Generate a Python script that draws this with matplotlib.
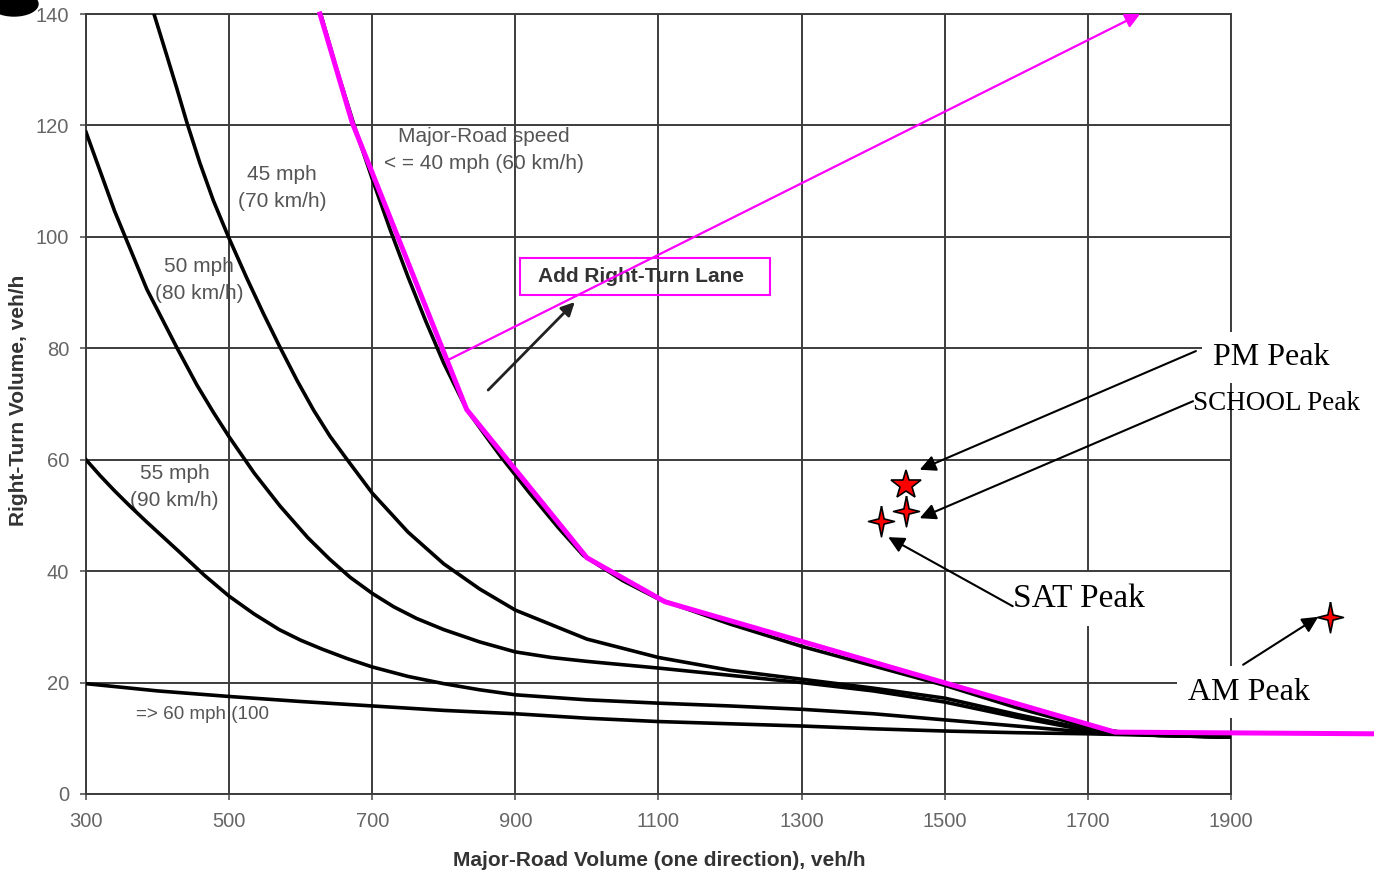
import matplotlib
matplotlib.use("Agg")
import matplotlib.pyplot as plt
from matplotlib.patches import Ellipse, Rectangle
import numpy as np

# curves (major-road volume, right-turn volume)
x_40 = [628, 650, 674, 700, 725, 750, 775, 800, 832, 860, 880, 920, 960, 995,
        1050, 1100, 1200, 1300, 1400, 1500, 1600, 1700, 1750, 1800, 1900]
y_40 = [140, 130.2, 120.3, 110.4, 101.3, 92.8, 84.8, 77.3, 69.0, 64.0, 60.5, 54.0, 47.8, 42.8,
        38.3, 35, 30.5, 26.5, 23, 19.5, 15.5, 12, 11, 10.5, 10.2]
x_45 = [395, 413, 427, 441, 459, 478, 499, 525, 548, 571, 595, 618, 641, 665, 700, 750,
        800, 850, 900, 1000, 1100, 1200, 1300, 1400, 1500, 1600, 1700, 1800, 1900]
y_45 = [140, 132.5, 126.6, 120.5, 113.3, 106.5, 100, 92.5, 86.2, 80.2, 74.2, 68.9, 64.2, 60, 54,
        47, 41.3, 36.8, 33, 27.8, 24.5, 22.2, 20.6, 19, 17.2, 14.3, 11.6, 10.6, 10.2]
x_50 = [300, 340, 385, 427, 455, 478, 500, 535, 571, 610, 640, 669, 700, 730, 762, 800, 850,
        900, 950, 1000, 1100, 1200, 1300, 1400, 1500, 1600, 1700, 1800, 1900]
y_50 = [118.8, 104.6, 90.6, 80.1, 73.4, 68.5, 64.1, 57.6, 51.7, 46.0, 42.2, 38.9, 36.0, 33.6,
        31.5, 29.5, 27.3, 25.5, 24.5, 23.8, 22.6, 21.3, 20, 18.5, 16.5, 13.8, 11.4, 10.6, 10.2]
x_55 = [300, 320, 340, 362, 385, 430, 465, 500, 535, 570, 600, 630, 665, 700, 750, 800, 850,
        900, 1000, 1100, 1200, 1300, 1400, 1500, 1600, 1700, 1800, 1900]
y_55 = [60, 57.1, 54.4, 51.6, 48.8, 43.5, 39.3, 35.5, 32.3, 29.5, 27.6, 26, 24.3, 22.8, 21.1,
        19.8, 18.7, 17.8, 16.9, 16.3, 15.8, 15.2, 14.4, 13.3, 12.2, 11.1, 10.5, 10.2]
x_60 = [300, 400, 500, 600, 700, 800, 900, 1000, 1100, 1200, 1300, 1400, 1500, 1600, 1700,
        1800, 1900]
y_60 = [19.8, 18.5, 17.5, 16.6, 15.8, 15.0, 14.4, 13.6, 13.0, 12.6, 12.2, 11.7, 11.3, 11.0, 10.8,
        10.5, 10.2]

# magenta threshold line drawn over the 40 mph curve
x_mag = [627, 672, 832, 1000, 1109, 1738, 2100]
y_mag = [140, 120.5, 69.0, 42.4, 34.5, 11.1, 10.8]

# observed peaks
peak_names = ["PM Peak", "SCHOOL Peak", "SAT Peak", "AM Peak"]
peak_x = [1446, 1446, 1411, 2038]
peak_y = [55.5, 50.8, 49.0, 31.8]
label_x = [1875, 1847, 1595, 1840]
label_y = [78.3, 70.0, 35.0, 18.3]
label_size = [23, 19.5, 24, 23]
label_boxed = [True, False, True, True]
arrow_start = [(1851, 79.5), (1847, 70.5), (1595, 33.7), (1917, 23.2)]
arrow_end = [(1465, 58.2), (1465, 49.5), (1421, 46.1), (2022, 31.8)]

curve_labels = ["45 mph\n(70 km/h)", "50 mph\n(80 km/h)", "55 mph\n(90 km/h)"]
curve_label_x = [574, 458, 424]
curve_label_y = [108.8, 92.3, 55.1]

box_x0, box_x1 = 906.5, 1255.8
box_y0, box_y1 = 89.6, 96.2

fig = plt.figure(figsize=(13.74, 8.75), dpi=100)
ax = fig.add_axes([0.0626, 0.0926, 0.8333, 0.8914])
ax.set_xlim(300, 1900)
ax.set_ylim(0, 140)
ax.set_xticks(np.arange(300, 1901, 200))
ax.set_yticks(np.arange(0, 141, 20))
ax.grid(True, color="#3c3c3c", lw=1.4, zorder=0)
ax.set_axisbelow(True)
for s in ax.spines.values():
    s.set_color("#3c3c3c")
    s.set_linewidth(1.4)
ax.tick_params(direction="out", length=4, width=1.2, color="#555555",
               labelcolor="#666666", labelsize=14.5)
ax.tick_params(axis="x", pad=9)
ax.tick_params(axis="y", pad=8)
for lab in ax.get_xticklabels() + ax.get_yticklabels():
    lab.set_fontfamily("Liberation Sans")

ax.text(0.501, -0.085, "Major-Road Volume (one direction), veh/h", transform=ax.transAxes,
        ha="center", va="center", fontsize=15, fontweight="bold", color="#333333",
        family="Liberation Sans")
ax.text(-0.059, 0.505, "Right-Turn Volume, veh/h", transform=ax.transAxes, rotation=90,
        ha="center", va="center", fontsize=15, fontweight="bold", color="#333333",
        family="Liberation Sans")

for xs, ys in [(x_40, y_40), (x_45, y_45), (x_50, y_50), (x_55, y_55), (x_60, y_60)]:
    ax.plot(xs, ys, color="black", lw=2.6, solid_joinstyle="round", zorder=3)

ax.plot(x_mag, y_mag, color="#ff00ff", lw=3.6, clip_on=False, zorder=4)

# curve labels
gray = "#555555"
for t, lx, ly in zip(curve_labels, curve_label_x, curve_label_y):
    ax.text(lx, ly, t, ha="center", va="center", fontsize=15, color=gray,
            family="Liberation Sans", linespacing=1.55, zorder=2)
ax.text(856, 115.6, "Major-Road speed\n< = 40 mph (60 km/h)", ha="center", va="center",
        fontsize=15, color=gray, family="Liberation Sans", linespacing=1.55, zorder=2)
ax.text(370, 14.2, "=> 60 mph (100", ha="left", va="center", fontsize=13.6,
        color=gray, family="Liberation Sans", zorder=2)

# "Add Right-Turn Lane" box and arrows
ax.add_patch(Rectangle((box_x0, box_y0), box_x1 - box_x0, box_y1 - box_y0, fc="none",
                       ec="#ff00ff", lw=1.5, zorder=5))
ax.text((box_x0 + box_x1) / 2 - 6, (box_y0 + box_y1) / 2, "Add Right-Turn Lane", ha="center",
        va="center", fontsize=15, fontweight="bold", color="#333333",
        family="Liberation Sans", zorder=5)
ax.annotate("", xy=(1773, 140), xytext=(806, 77.9),
            arrowprops=dict(arrowstyle="-|>", color="#ff00ff", lw=1.6, mutation_scale=22,
                            shrinkA=0, shrinkB=0), annotation_clip=False, zorder=5)
ax.annotate("", xy=(983, 88.3), xytext=(862, 72.5),
            arrowprops=dict(arrowstyle="-|>", color="#222222", lw=2.0, mutation_scale=20,
                            shrinkA=0, shrinkB=0), zorder=5)

# peak markers
star4 = [(0, 1), (0.17, 0.17), (0.85, 0), (0.17, -0.17), (0, -1), (-0.17, -0.17),
         (-0.85, 0), (-0.17, 0.17), (0, 1)]
for i, (px, py) in enumerate(zip(peak_x, peak_y)):
    mk = "*" if i == 0 else star4
    ax.plot(px, py, marker=mk, ms=22, mfc="red", mec="black", mew=1.2,
            clip_on=False, zorder=7)

# peak labels and arrows
for name, lx, ly, fs, boxed in zip(peak_names, label_x, label_y, label_size, label_boxed):
    bb = dict(boxstyle="square,pad=0.35", fc="white", ec="none") if boxed else None
    ax.text(lx, ly, name, ha="left", va="center", fontsize=fs, color="black",
            family="Liberation Serif", zorder=5, bbox=bb)
for (sx, sy), (ex, ey) in zip(arrow_start, arrow_end):
    ax.annotate("", xy=(ex, ey), xytext=(sx, sy),
                arrowprops=dict(arrowstyle="-|>", color="black", lw=1.5, mutation_scale=24,
                                shrinkA=0, shrinkB=0), annotation_clip=False, zorder=6)

# scanned blot in the corner
fig.add_artist(Ellipse((14 / 1374, 1 - 4 / 875), 48 / 1374, 24 / 875,
                       transform=fig.transFigure, color="black"))

fig.savefig("out.png", dpi=100)
